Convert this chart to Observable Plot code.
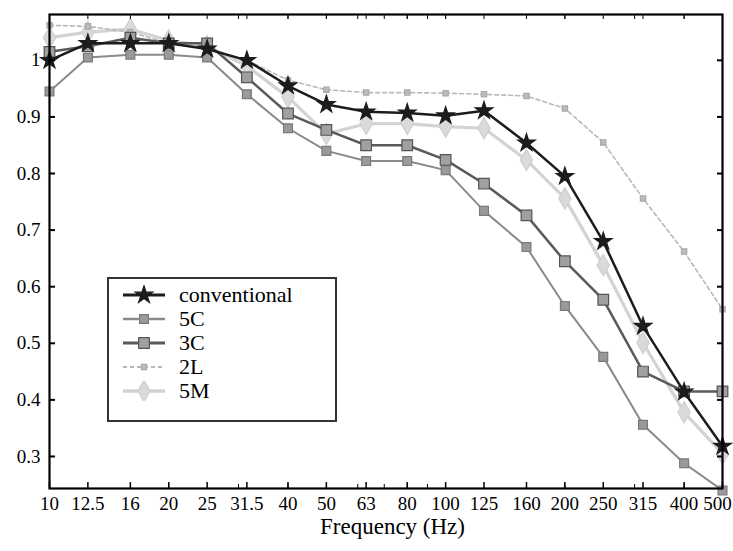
<!DOCTYPE html>
<html><head><meta charset="utf-8">
<script src="https://cdn.jsdelivr.net/npm/d3@7"></script>
<script src="https://cdn.jsdelivr.net/npm/@observablehq/plot@0.6"></script>
<style>
body{margin:0;background:#fff;}
#wrap{position:relative;width:733px;height:551px;font-family:"Liberation Serif","Times New Roman",serif;}
#legend{position:absolute;left:107px;top:277px;width:226px;height:141px;border:2px solid #333;background:#fff;box-sizing:content-box;}
#legend .row{position:absolute;left:0;height:24px;display:flex;align-items:center;font-size:22px;color:#000;}
#legend svg{margin-left:12px;margin-right:12px;}
#xtitle{position:absolute;left:56px;width:673px;top:514px;text-align:center;font-size:23px;color:#000;}
</style></head><body><div id="wrap"></div>
<script>
const freqs = [10, 12.5, 16, 20, 25, 31.5, 40, 50, 63, 80, 100, 125, 160, 200, 250, 315, 400, 500];
const conventional = [1.0, 1.03, 1.03, 1.03, 1.02, 1.0, 0.955, 0.922, 0.909, 0.907, 0.902, 0.911, 0.854, 0.795, 0.68, 0.53, 0.414, 0.318];
const s5C = [0.945, 1.005, 1.01, 1.01, 1.005, 0.94, 0.88, 0.84, 0.822, 0.822, 0.806, 0.734, 0.67, 0.566, 0.476, 0.356, 0.288, 0.24];
const s3C = [1.015, 1.025, 1.04, 1.03, 1.03, 0.97, 0.906, 0.877, 0.85, 0.85, 0.824, 0.782, 0.726, 0.645, 0.577, 0.45, 0.415, 0.415];
const s2L = [1.062, 1.06, 1.05, 1.03, 1.02, 1.0, 0.965, 0.948, 0.943, 0.943, 0.942, 0.94, 0.937, 0.915, 0.855, 0.756, 0.662, 0.56];
const s5M = [1.04, 1.05, 1.055, 1.035, 1.025, 0.99, 0.935, 0.87, 0.888, 0.888, 0.883, 0.88, 0.824, 0.756, 0.638, 0.501, 0.378, 0.305];
const seriesNames = ["conventional", "5C", "3C", "2L", "5M"];
const seriesValues = [conventional, s5C, s3C, s2L, s5M];
const yTicks = [0.3, 0.4, 0.5, 0.6, 0.7, 0.8, 0.9, 1];
const xTickLabels = ["10", "12.5", "16", "20", "25", "31.5", "40", "50", "63", "80", "100", "125", "160", "200", "250", "315", "400", "500"];
const minorTicks = [20, 30, 40, 50, 60, 70, 80, 90, 100, 200, 300, 400];
const xLabel = "Frequency (Hz)";

const styles = {
  "conventional": {stroke: "#1c1c1c", width: 2.5, dash: null, symbol: "star", fill: "#1c1c1c", mstroke: "#1c1c1c", r: 5.5},
  "5C": {stroke: "#8a8a8a", width: 2, dash: null, symbol: "square", fill: "#9a9a9a", mstroke: "#7a7a7a", r: 5},
  "3C": {stroke: "#5a5a5a", width: 2.5, dash: null, symbol: "square", fill: "#a0a0a0", mstroke: "#555", r: 6},
  "2L": {stroke: "#b8b8b8", width: 1.6, dash: "4,3", symbol: "square", fill: "#bbb", mstroke: "#aaa", r: 3},
  "5M": {stroke: "#d3d3d3", width: 3.2, dash: null, symbol: "diamond", fill: "#dadada", mstroke: "#cfcfcf", r: 6.5}
};

// x position uses log10 of frequency on a linear scale (third-octave spacing)
const lg = Math.log10;
const table = [];
seriesNames.forEach((name, si) => {
  freqs.forEach((f, i) => table.push({series: name, f, lf: lg(f), v: seriesValues[si][i]}));
});
const xTickPos = freqs.map(lg);
const labelOf = new Map(xTickPos.map((p, i) => [p, xTickLabels[i]]));
const lastPos = xTickPos[xTickPos.length - 1];

const drawOrder = ["5M", "2L", "5C", "3C", "conventional"];
const seriesMarks = [];
for (const name of drawOrder) {
  const st = styles[name];
  const d = table.filter(r => r.series === name);
  seriesMarks.push(Plot.line(d, {x: "lf", y: "v", stroke: st.stroke, strokeWidth: st.width, strokeDasharray: st.dash}));
  seriesMarks.push(Plot.dot(d, {x: "lf", y: "v", symbol: st.symbol, r: st.r, fill: st.fill, stroke: st.mstroke, strokeWidth: 1.2}));
}

const blank = () => "";
const chart = Plot.plot({
  width: 733, height: 551,
  marginLeft: 49, marginRight: 11, marginTop: 14, marginBottom: 63,
  x: {type: "linear", domain: [lg(10), lg(500)]},
  y: {domain: [0.2434, 1.081]},
  style: {fontFamily: '"Liberation Serif","Times New Roman",serif', fontSize: "19px", color: "#000", background: "#fff"},
  marks: [
    ...seriesMarks,
    Plot.axisY(yTicks, {anchor: "left", tickSize: -6, tickPadding: 15, tickFormat: d => String(d), label: null, strokeWidth: 2}),
    Plot.axisY(yTicks, {anchor: "right", tickSize: -6, tickFormat: blank, label: null, strokeWidth: 2}),
    Plot.axisX(xTickPos, {anchor: "bottom", tickSize: -6, tickPadding: 14, tickFormat: p => (p === lastPos ? "" : labelOf.get(p)), label: null, strokeWidth: 1.5}),
    Plot.axisX([lastPos], {anchor: "bottom", tickSize: 0, tickPadding: 8, dx: -5, tickFormat: p => labelOf.get(p), label: null}),
    Plot.axisX(minorTicks.map(lg), {anchor: "bottom", tickSize: -4, tickFormat: blank, label: null}),
    Plot.axisX(minorTicks.map(lg), {anchor: "top", tickSize: -4, tickFormat: blank, label: null}),
    Plot.axisX(xTickPos, {anchor: "top", tickSize: -4, tickFormat: blank, label: null}),
    Plot.frame({stroke: "#000", strokeWidth: 2.2})
  ]
});

const wrap = document.getElementById("wrap");
wrap.appendChild(chart);

const title = document.createElement("div");
title.id = "xtitle";
title.textContent = xLabel;
wrap.appendChild(title);

const legend = document.createElement("div");
legend.id = "legend";
const symPaths = {star: d3.symbolStar, square: d3.symbolSquare, diamond: d3.symbolDiamond};
seriesNames.forEach((name, i) => {
  const st = styles[name];
  const row = document.createElement("div");
  row.className = "row";
  row.style.top = (4 + i * 24) + "px";
  const svg = d3.create("svg").attr("width", 46).attr("height", 20);
  svg.append("line").attr("x1", 2).attr("x2", 44).attr("y1", 10).attr("y2", 10)
    .attr("stroke", st.stroke).attr("stroke-width", st.width + 0.5).attr("stroke-dasharray", st.dash);
  const area = Math.PI * st.r * st.r;
  svg.append("path").attr("transform", "translate(23,10)")
    .attr("d", d3.symbol(symPaths[st.symbol], area)())
    .attr("fill", st.fill).attr("stroke", st.mstroke).attr("stroke-width", 1.2);
  row.appendChild(svg.node());
  const t = document.createElement("span");
  t.textContent = name;
  row.appendChild(t);
  legend.appendChild(row);
});
wrap.appendChild(legend);
</script>
</body></html>
